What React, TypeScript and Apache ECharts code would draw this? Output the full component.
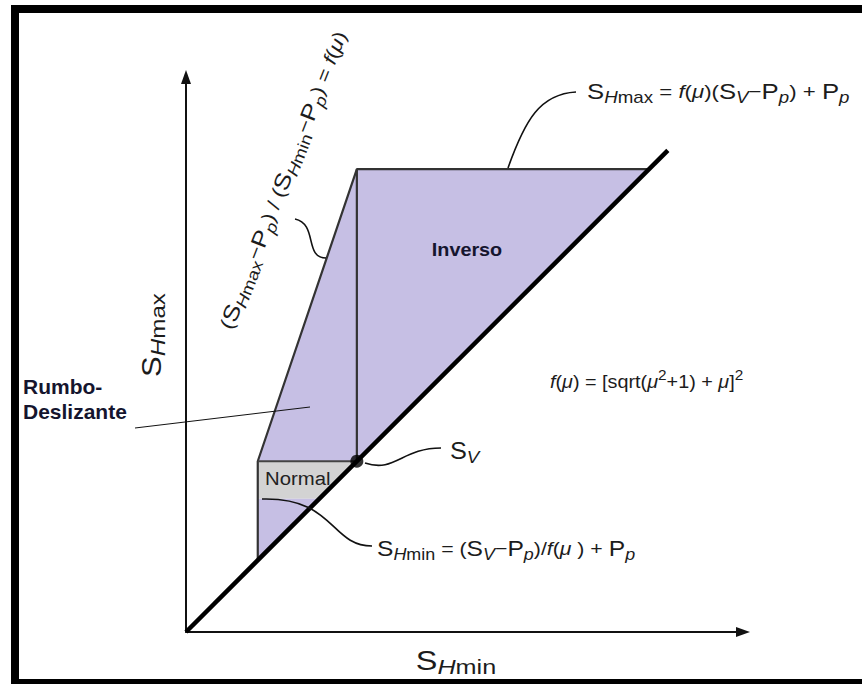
import React, { useEffect, useRef } from "react";
import * as echarts from "echarts";

// Stress magnitudes (vertical stress Sv = 100 in the same units)
const verticalStress = 100;
const axisMaxShmin = 326;
const axisMaxShmax = 325;

// S_Hmax = S_Hmin reference line
const diagonalLine = [
  [0, 0],
  [282, 282],
];
// Outer boundary of the stress polygon
const polygonOutline = [
  [42, 42],
  [42, 100],
  [100, 271],
  [271, 271],
];
const svVertical = [
  [100, 100],
  [100, 271],
];
const svHorizontal = [
  [42, 100],
  [100, 100],
];

// Shaded faulting regimes
const inverseRegion = [
  [100, 100],
  [100, 271],
  [271, 271],
];
const strikeSlipRegion = [
  [42, 100],
  [100, 271],
  [100, 100],
];
const normalRegion = [
  [42, 100],
  [100, 100],
  [78, 78],
  [42, 78],
];
const lowerRegion = [
  [42, 78],
  [78, 78],
  [42, 42],
];

const svPoint = [[verticalStress, verticalStress]];

const regions = [inverseRegion, strikeSlipRegion, normalRegion, lowerRegion];
const PURPLE = "#c6bfe4";
const GREY = "#d3d3d3";
const regionFills = [PURPLE, PURPLE, GREY, PURPLE];

const FONT = '"Liberation Sans", Arial, Helvetica, sans-serif';
const INK = "#1c1c1c";

function formulaRich(base: number, color: string) {
  const common = { fontFamily: FONT, fill: color };
  const lh = base + 10;
  return {
    S: { ...common, fontSize: base + 3, lineHeight: lh, verticalAlign: "middle" },
    t: { ...common, fontSize: base, lineHeight: lh, verticalAlign: "middle" },
    i: { ...common, fontSize: base, fontStyle: "italic", lineHeight: lh, verticalAlign: "middle" },
    b: { ...common, fontSize: base - 3, fontStyle: "italic", verticalAlign: "bottom" },
    br: { ...common, fontSize: base - 3, verticalAlign: "bottom" },
    p: { ...common, fontSize: base - 4, verticalAlign: "top" },
  };
}

function richText(
  text: string,
  x: number,
  y: number,
  base: number,
  align: string,
  rotation = 0,
  scaleX = 1,
  color = INK
) {
  return {
    type: "text",
    x,
    y,
    rotation,
    scaleX,
    z: 20,
    silent: true,
    style: {
      text,
      align,
      textAlign: align,
      verticalAlign: "middle",
      textVerticalAlign: "middle",
      fill: color,
      fontFamily: FONT,
      rich: formulaRich(base, color),
    },
  };
}

function plainText(
  text: string,
  x: number,
  y: number,
  size: number,
  weight: string,
  align: string,
  scaleX: number,
  color: string,
  lineHeight?: number
) {
  return {
    type: "text",
    x,
    y,
    scaleX,
    z: 20,
    silent: true,
    style: {
      text,
      fill: color,
      fontFamily: FONT,
      fontSize: size,
      fontWeight: weight,
      lineHeight,
      align,
      textAlign: align,
      verticalAlign: "middle",
      textVerticalAlign: "middle",
    },
  };
}

const shmaxFormula =
  "{S|S}{b|H}{br|max}{t| = }{i|f}{t|(}{i|μ}{t|)(}{S|S}{b|V}{t|−}{S|P}{b|p}{t|) + }{S|P}{b|p}";
const shminFormula =
  "{S|S}{b|H}{br|min}{t| = (}{S|S}{b|V}{t|−}{S|P}{b|p}{t|)/}{i|f}{t|(}{i|μ }{t|) + }{S|P}{b|p}";
const ratioFormula =
  "{t|(}{S|S}{b|H}{br|max}{t|−}{S|P}{b|p}{t|) / (}{S|S}{b|H}{br|min}{t|−}{S|P}{b|p}{t|) = }{i|f}{t|(}{i|μ}{t|)}";
const frictionFormula =
  "{i|f}{t|(}{i|μ}{t|) = [sqrt(}{i|μ}{p|2}{t|+1) + }{i|μ}{t|]}{p|2}";
const svLabel = "{S|S}{b|V}";
const yAxisLabel = "{S|S}{b|H}{br|max}";
const xAxisLabel = "{S|S}{b|H}{br|min}";

function leader(x1: number, y1: number, c1x: number, c1y: number, c2x: number, c2y: number, x2: number, y2: number) {
  return {
    type: "bezierCurve",
    z: 15,
    silent: true,
    shape: { x1, y1, cpx1: c1x, cpy1: c1y, cpx2: c2x, cpy2: c2y, x2, y2 },
    style: { stroke: "#111", lineWidth: 1.6, fill: "none" },
  };
}

function axisStyle(max: number) {
  return {
    type: "value",
    min: 0,
    max,
    axisLine: {
      show: true,
      onZero: false,
      symbol: ["none", "triangle"],
      symbolSize: [10, 14],
      lineStyle: { color: "#111", width: 2 },
    },
    axisTick: { show: false },
    axisLabel: { show: false },
    splitLine: { show: false },
  };
}

export default function App() {
  const ref = useRef<HTMLDivElement>(null);

  useEffect(() => {
    if (!ref.current) return;
    const chart = echarts.init(ref.current, undefined, { renderer: "svg" });

    const option: any = {
      animation: false,
      backgroundColor: "#ffffff",
      grid: { left: 186, top: 77, right: 119, bottom: 52 },
      xAxis: axisStyle(axisMaxShmin),
      yAxis: axisStyle(axisMaxShmax),
      series: [
        {
          type: "custom",
          silent: true,
          z: 1,
          data: regions.map((r) => r[0]),
          renderItem: (params: any, api: any) => ({
            type: "polygon",
            shape: { points: regions[params.dataIndex].map((p) => api.coord(p)) },
            style: { fill: regionFills[params.dataIndex] },
          }),
        },
        {
          type: "line",
          data: polygonOutline,
          symbol: "none",
          silent: true,
          z: 3,
          lineStyle: { color: "#333", width: 2.2 },
        },
        {
          type: "line",
          data: svVertical,
          symbol: "none",
          silent: true,
          z: 3,
          lineStyle: { color: "#333", width: 2.2 },
        },
        {
          type: "line",
          data: svHorizontal,
          symbol: "none",
          silent: true,
          z: 3,
          lineStyle: { color: "#444", width: 2 },
        },
        {
          type: "line",
          data: diagonalLine,
          symbol: "none",
          silent: true,
          z: 4,
          lineStyle: { color: "#000", width: 4.5 },
        },
        {
          type: "scatter",
          data: svPoint,
          symbolSize: 13,
          silent: true,
          z: 5,
          itemStyle: { color: "#000" },
        },
      ],
      graphic: [
        // frame
        { type: "rect", z: 30, silent: true, shape: { x: 11, y: 5, width: 8, height: 679 }, style: { fill: "#000" } },
        { type: "rect", z: 30, silent: true, shape: { x: 11, y: 5, width: 851, height: 8 }, style: { fill: "#000" } },
        { type: "rect", z: 30, silent: true, shape: { x: 11, y: 679, width: 851, height: 5 }, style: { fill: "#000" } },

        // leader curves
        leader(508, 168, 525, 120, 540, 94, 576, 92),
        leader(326, 258, 304, 258, 318, 224, 295, 219),
        leader(365, 463, 395, 473, 402, 448, 441, 448),
        leader(262, 499, 335, 497, 330, 546, 372, 546),
        {
          type: "line",
          z: 15,
          silent: true,
          shape: { x1: 135, y1: 428, x2: 310, y2: 407 },
          style: { stroke: "#111", lineWidth: 1 },
        },

        // formulas and labels
        richText(shmaxFormula, 587, 91, 19, "left", 0, 1.17),
        richText(shminFormula, 377, 548, 19, "left", 0, 1.12),
        richText(ratioFormula, 283, 180, 19, "center", 1.2, 1.18),
        richText(frictionFormula, 550, 382, 18, "left", 0, 1.1),
        richText(svLabel, 450, 451, 20, "left", 0, 1.1),
        richText(yAxisLabel, 152, 335, 24, "center", Math.PI / 2, 1.15),
        richText(xAxisLabel, 456, 660, 24, "center", 0, 1.2),
        plainText("Rumbo-\nDeslizante", 23, 399, 20, "bold", "left", 1.05, "#15152e", 25),
        plainText("Normal", 265, 478, 19, "normal", "left", 1.07, "#222"),
        plainText("Inverso", 467, 250, 18, "bold", "center", 1.1, "#15152e"),
      ],
    };

    chart.setOption(option);
    return () => chart.dispose();
  }, []);

  return (
    <div
      ref={ref}
      style={{ position: "absolute", left: 0, top: 0, width: 862, height: 684 }}
    />
  );
}
